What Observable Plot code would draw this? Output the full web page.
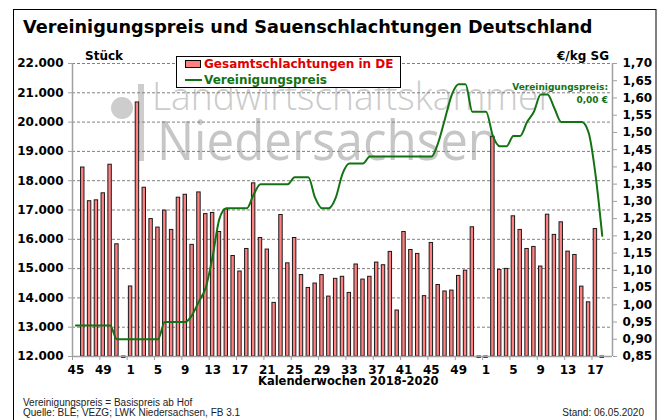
<!DOCTYPE html>
<html><head><meta charset="utf-8">
<script src="https://cdn.jsdelivr.net/npm/d3@7"></script>
<script src="https://cdn.jsdelivr.net/npm/@observablehq/plot@0.6"></script>
<style>
html,body{margin:0;padding:0;background:#fff;overflow:hidden}
#wrap{position:relative;width:662px;height:420px;overflow:hidden}
#wm{position:absolute;left:0;top:0;z-index:0}
#chart{position:absolute;left:0;top:0;z-index:1}
#ann{position:absolute;left:0;top:0;z-index:2;pointer-events:none}
.b{font-family:"DejaVu Sans",sans-serif;font-weight:bold}
.n{font-family:"Liberation Sans",Arial,sans-serif}
</style></head><body>
<div id="wrap">
  <svg id="wm" width="662" height="420">
    <circle cx="122" cy="108" r="11" fill="#cdcdcd"></circle>
    <rect x="138" y="84" width="6" height="77" fill="#cdcdcd"></rect>
    <text x="152" y="110" font-family="Open Sans" font-weight="300" font-size="38" fill="#cbcbcb" textLength="401" lengthAdjust="spacingAndGlyphs">Landwirtschaftskammer</text>
    <text x="157" y="160" font-family="Open Sans" font-weight="400" font-size="55" fill="#c6c6c6" textLength="341" lengthAdjust="spacingAndGlyphs">Niedersachsen</text>
  </svg>
  <div id="chart"></div>
  <svg id="ann" width="662" height="420">
    <rect x="13.5" y="9.5" width="642.5" height="430" fill="none" stroke="#000" stroke-width="1"></rect>
    <text class="b" x="23" y="33" font-size="17.7" fill="#000">Vereinigungspreis und Sauenschlachtungen Deutschland</text>
    <text class="b" x="85" y="60" font-size="12" fill="#000">Stück</text>
    <text class="b" x="609" y="60" font-size="12" fill="#000" text-anchor="end">€/kg SG</text>
    <rect x="176.5" y="56.5" width="224" height="31" fill="#fff" stroke="#000"></rect>
    <rect x="185.5" y="60.5" width="15" height="7" fill="#ff8080" stroke="#000"></rect>
    <text class="b" x="204" y="68" font-size="12" fill="#e00000">Gesamtschlachtungen in DE</text>
    <line x1="185" x2="202" y1="80" y2="80" stroke="#127312" stroke-width="2"></line>
    <text class="b" x="204" y="84" font-size="12" fill="#127312">Vereinigungspreis</text>
    <text class="b" x="608" y="90" font-size="9" fill="#127312" text-anchor="end">Vereinigungspreis:</text>
    <text class="b" x="608" y="103" font-size="9" fill="#127312" text-anchor="end">0,00 €</text>
    <text class="b" x="258" y="385" font-size="11.5" fill="#000">Kalenderwochen 2018-2020</text>
    <text class="n" x="23" y="406" font-size="10" fill="#222">Vereinigungspreis = Basispreis ab Hof</text>
    <text class="n" x="23" y="416" font-size="10" fill="#222">Quelle: BLE; VEZG; LWK Niedersachsen, FB 3.1</text>
    <text class="n" x="644" y="416" font-size="10" fill="#222" text-anchor="end">Stand: 06.05.2020</text>
  </svg>
</div>
<script>
// Calendar weeks (categories)
const kw2018 = [45, 46, 47, 48, 49, 50, 51, 52];
const kw2019 = d3.range(1, 53);
const kw2020 = d3.range(1, 20);

// Gesamtschlachtungen in DE (Stück)
const schlachtungen2018 = [null, 18450, 17300, 17330, 17570, 18545, 15830, 11950];
const schlachtungen2019 = [
  14390, 20670, 17760, 16690, 16400, 16980, 16320, 17420, 17520, 15810,
  17600, 16860, 16900, 16250, 17020, 15430, 14900, 15670, 17910, 16045,
  15650, 13830, 16830, 15180, 16045, 14780, 14340, 14490, 14780, 14045,
  14650, 14720, 14170, 15140, 14625, 14720, 15205, 15115, 15570, 13570,
  16250, 15635, 15500, 14060, 15875, 14440, 14220, 14250, 14750, 14930,
  16410, 11950];
const schlachtungen2020 = [
  11950, 19500, 14955, 14990, 16785, 16320, 15670, 15740, 15070, 16840,
  16150, 16580, 15580, 15465, 14385, 13850, 16350, 11950, null];

// Vereinigungspreis (€/kg SG)
const preis2018 = [0.94, 0.94, 0.94, 0.94, 0.94, 0.94, 0.90, 0.90];
const preis2019 = [
  0.90, 0.90, 0.90, 0.90, 0.90, 0.95, 0.95, 0.95, 0.95, 0.97,
  1.01, 1.05, 1.14, 1.25, 1.28, 1.28, 1.28, 1.28, 1.32, 1.35,
  1.35, 1.35, 1.35, 1.35, 1.37, 1.37, 1.37, 1.31, 1.28, 1.28,
  1.31, 1.38, 1.41, 1.41, 1.41, 1.43, 1.43, 1.43, 1.43, 1.43,
  1.43, 1.43, 1.43, 1.43, 1.43, 1.47, 1.54, 1.61, 1.64, 1.64,
  1.56, 1.56];
const preis2020 = [
  1.56, 1.49, 1.46, 1.46, 1.49, 1.49, 1.53, 1.56, 1.61, 1.61,
  1.57, 1.53, 1.53, 1.53, 1.53, 1.50, 1.38, 1.20, null];

// Axis ticks
const leftTicks = [12000, 13000, 14000, 15000, 16000, 17000, 18000, 19000, 20000, 21000, 22000];
const rightTicks = [0.85, 0.90, 0.95, 1.00, 1.05, 1.10, 1.15, 1.20, 1.25, 1.30, 1.35, 1.40, 1.45, 1.50, 1.55, 1.60, 1.65, 1.70];
const leftDomain = [12000, 22000];
const rightDomain = [0.85, 1.70];

const rows = [];
[[2018, kw2018, schlachtungen2018, preis2018],
 [2019, kw2019, schlachtungen2019, preis2019],
 [2020, kw2020, schlachtungen2020, preis2020]].forEach(([year, weeks, s, p]) => {
  weeks.forEach((w, i) => rows.push({key: `${year}-${w}`, week: w, s: s[i], p: p[i]}));
});
const keys = rows.map(d => d.key);
const weekOf = new Map(rows.map(d => [d.key, d.week]));
const tickKeys = keys.filter((k, i) => i % 4 === 0);

// secondary axis mapped onto the primary scale
const toLeft = p => leftDomain[0] + (p - rightDomain[0]) * (leftDomain[1] - leftDomain[0]) / (rightDomain[1] - rightDomain[0]);
const toRight = v => rightDomain[0] + (v - leftDomain[0]) * (rightDomain[1] - rightDomain[0]) / (leftDomain[1] - leftDomain[0]);

const de = d3.formatLocale({decimal: ",", thousands: ".", grouping: [3], currency: ["", " €"]});
const fmtLeft = de.format(",d");
const fmtRight = de.format(".2f");

const W = 662, H = 420, mL = 72, mR = 50, mT = 63, mB = 64;
const step = (W - mL - mR) / keys.length;
const axisGray = "#a0a0a0";

const plot = Plot.plot({
  width: W, height: H,
  marginLeft: mL, marginRight: mR, marginTop: mT, marginBottom: mB,
  style: {background: "transparent", fontFamily: "DejaVu Sans", fontSize: "12px", fontWeight: "bold", color: "#000"},
  x: {type: "band", domain: keys, paddingInner: 0.5, paddingOuter: 0.25, axis: null, label: null},
  y: {domain: leftDomain, axis: null, label: null},
  marks: [
    Plot.gridY(leftTicks.slice(1), {stroke: "#808080", strokeOpacity: 1, strokeDasharray: "3,2"}),
    Plot.barY(rows.filter(d => d.s != null), {x: "key", y1: leftDomain[0], y2: "s", fill: "#ff8080", stroke: "#1a1a1a", strokeWidth: 1}),
    Plot.ruleY([leftDomain[0]], {stroke: axisGray, strokeWidth: 1.5}),
    Plot.ruleX([keys[0]], {dx: -step / 2, stroke: axisGray, strokeWidth: 1.5}),
    Plot.ruleX([keys[keys.length - 1]], {dx: step / 2, stroke: axisGray, strokeWidth: 1.5}),
    Plot.line(rows.filter(d => d.p != null), {x: "key", y: d => toLeft(d.p), stroke: "#127312", strokeWidth: 2, curve: "monotone-x"}),
    Plot.axisY(leftTicks, {anchor: "left", label: null, tickSize: 4, tickPadding: 5, tickFormat: fmtLeft, stroke: axisGray, fill: "#000"}),
    Plot.axisY(rightTicks.map(toLeft), {anchor: "right", label: null, tickSize: 4, tickPadding: 6, tickFormat: v => fmtRight(toRight(v)), stroke: axisGray, fill: "#000"}),
    Plot.axisX(tickKeys, {label: null, tickSize: 4, tickFormat: () => "", dx: -step / 2, stroke: axisGray}),
    Plot.axisX(tickKeys, {label: null, tickSize: 0, tickPadding: 9, tickFormat: k => String(weekOf.get(k)), fill: "#000"})
  ]
});
document.getElementById("chart").appendChild(plot);
</script>
</body></html>
